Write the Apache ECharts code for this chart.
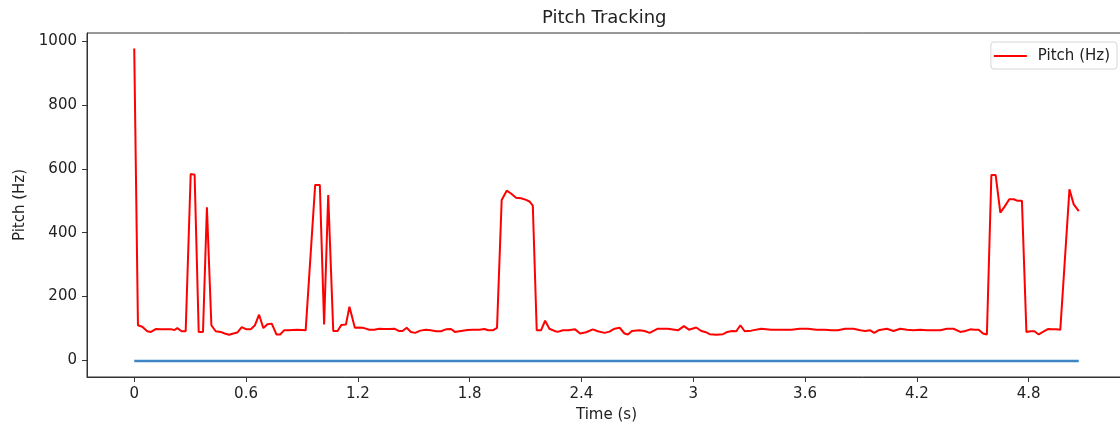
<!DOCTYPE html>
<html>
<head>
<meta charset="utf-8">
<script src="https://cdn.jsdelivr.net/npm/echarts@6/dist/echarts.min.js"></script>
<style>
html, body { margin: 0; padding: 0; background: #fff; }
#main { width: 1120px; height: 432px; }
</style>
</head>
<body>
<div id="main"></div>
<script>
// pitch track (time in s, pitch in Hz)
var pitchTimes = [0.00, 0.02, 0.043, 0.07, 0.09, 0.115, 0.14, 0.17, 0.20, 0.216, 0.231, 0.254, 0.276, 0.303, 0.324, 0.346, 0.369, 0.39, 0.414, 0.437,
	0.464, 0.485, 0.509, 0.532, 0.553, 0.577, 0.602, 0.625, 0.648, 0.670, 0.693, 0.715, 0.738, 0.763, 0.783, 0.804, 0.831, 0.85, 0.875, 0.90,
	0.92, 0.971, 0.996, 1.019, 1.041, 1.068, 1.091, 1.112, 1.136, 1.155, 1.184, 1.207, 1.234, 1.261, 1.288, 1.315, 1.342, 1.369, 1.396, 1.419,
	1.44, 1.462, 1.485, 1.508, 1.535, 1.565, 1.592, 1.619, 1.646, 1.673, 1.70, 1.721, 1.753, 1.789, 1.816, 1.852, 1.879, 1.90, 1.924, 1.947,
	1.972, 1.999, 2.022, 2.049, 2.076, 2.103, 2.121, 2.139, 2.160, 2.183, 2.205, 2.228, 2.255, 2.273, 2.30, 2.33, 2.366, 2.393, 2.425, 2.461,
	2.488, 2.524, 2.55, 2.578, 2.605, 2.631, 2.649, 2.671, 2.712, 2.739, 2.766, 2.81, 2.864, 2.918, 2.95, 2.977, 3.016, 3.043, 3.064, 3.088,
	3.124, 3.16, 3.183, 3.208, 3.231, 3.253, 3.276, 3.311, 3.365, 3.419, 3.473, 3.527, 3.571, 3.616, 3.661, 3.706, 3.742, 3.777, 3.815, 3.86,
	3.896, 3.923, 3.95, 3.971, 3.994, 4.039, 4.075, 4.111, 4.147, 4.183, 4.218, 4.254, 4.29, 4.326, 4.361, 4.397, 4.433, 4.46, 4.487, 4.51,
	4.532, 4.555, 4.576, 4.60, 4.623, 4.648, 4.671, 4.696, 4.72, 4.741, 4.764, 4.788, 4.81, 4.831, 4.854, 4.877, 4.903, 4.926, 4.948, 4.97,
	5.019, 5.042, 5.069];
var pitchValues = [978, 110, 105, 91, 89, 98, 97, 97, 97, 95, 101, 91, 91, 584, 582, 89, 89, 480, 110, 91,
	89, 84, 80, 84, 87, 104, 97, 97, 110, 143, 101, 113, 115, 81, 81, 94, 94, 95, 96, 95,
	94, 550, 550, 112, 518, 92, 92, 111, 112, 168, 102, 103, 101, 96, 96, 99, 98, 98, 99, 92,
	92, 102, 89, 86, 93, 96, 94, 91, 91, 97, 98, 89, 92, 95, 96, 96, 98, 94, 94, 102,
	503, 532, 523, 510, 508, 503, 498, 485, 94, 94, 124, 99, 92, 89, 94, 94, 97, 84, 88, 97,
	91, 86, 90, 99, 102, 84, 81, 92, 94, 92, 86, 99, 99, 94, 107, 96, 103, 92, 89, 82,
	80, 82, 89, 92, 91, 110, 91, 93, 99, 96, 96, 96, 99, 99, 96, 96, 94, 94, 99, 99,
	94, 92, 94, 86, 94, 99, 92, 99, 96, 94, 96, 94, 94, 94, 99, 99, 89, 92, 97, 96,
	96, 84, 81, 581, 581, 463, 482, 505, 505, 500, 500, 89, 91, 91, 81, 89, 98, 97, 97, 96,
	536, 489, 468];

// the flat blue trace near zero
var waveTimes = [0, 1.2, 2.4, 3.6, 4.8, 5.069];
var waveValues = [-2, -2, -2, -2, -2, -2];

var xTicks = [0, 0.6, 1.2, 1.8, 2.4, 3, 3.6, 4.2, 4.8];
var yTicks = [0, 200, 400, 600, 800, 1000];

var pitchData = [];
for (var i = 0; i < pitchTimes.length; i++) {
	pitchData.push([pitchTimes[i], pitchValues[i]]);
}
var waveData = [];
for (var j = 0; j < waveTimes.length; j++) {
	waveData.push([waveTimes[j], waveValues[j]]);
}

var myChart = echarts.init(document.getElementById('main'), null, { renderer: 'canvas' });

var font = 'DejaVu Sans';

var option = {
	backgroundColor: '#fff',
	animation: false,
	textStyle: { fontFamily: font },
	title: {
		text: 'Pitch Tracking',
		left: 537,
		top: 4,
		textStyle: { fontFamily: font, fontSize: 18, fontWeight: 'normal', color: '#222' }
	},
	legend: {
		data: [{ name: 'Pitch (Hz)', icon: 'rect' }],
		right: 3,
		top: 42,
		orient: 'vertical',
		padding: [5, 7, 4, 3],
		itemWidth: 33,
		itemHeight: 2,
		borderColor: '#d6d6d6',
		borderWidth: 1,
		borderRadius: 3,
		backgroundColor: 'rgba(255,255,255,0.8)',
		textStyle: { fontFamily: font, fontSize: 15, color: '#222', padding: [0, 0, 0, 6], lineHeight: 18 }
	},
	grid: {
		left: 87,
		top: 33,
		right: -6,
		bottom: 55,
		show: true,
		borderColor: '#333',
		borderWidth: 1,
		backgroundColor: 'transparent',
		containLabel: false,
		outerBoundsMode: 'none'
	},
	xAxis: {
		type: 'value',
		min: -0.2535,
		max: 5.3225,
		name: 'Time (s)',
		nameLocation: 'middle',
		nameGap: 31,
		nameTextStyle: { fontFamily: font, fontSize: 15, color: '#222' },
		axisLine: { show: true, onZero: false, lineStyle: { color: '#333', width: 1 } },
		axisTick: { show: true, length: 5, customValues: xTicks, lineStyle: { color: '#333' } },
		axisLabel: {
			margin: 10, customValues: xTicks, fontFamily: font, fontSize: 15, color: '#222',
			formatter: function (v) { return String(Math.round(v * 10) / 10); }
		},
		splitLine: { show: false }
	},
	yAxis: {
		type: 'value',
		min: -52.4,
		max: 1026.4,
		name: 'Pitch (Hz)',
		nameLocation: 'middle',
		nameGap: 57,
		nameTextStyle: { fontFamily: font, fontSize: 15, color: '#222' },
		axisLine: { show: true, onZero: false, lineStyle: { color: '#333', width: 1 } },
		axisTick: { show: true, length: 5, customValues: yTicks, lineStyle: { color: '#333' } },
		axisLabel: {
			margin: 10, customValues: yTicks, fontFamily: font, fontSize: 15, color: '#222',
			formatter: function (v) { return String(Math.round(v)); }
		},
		splitLine: { show: false }
	},
	series: [{
		name: 'wave',
		type: 'line',
		symbol: 'none',
		lineStyle: { color: '#3f87c2', width: 2.5 },
		itemStyle: { color: '#3f87c2' },
		data: waveData,
		z: 2
	}, {
		name: 'Pitch (Hz)',
		type: 'line',
		symbol: 'none',
		lineStyle: { color: '#ff0000', width: 2 },
		itemStyle: { color: '#ff0000' },
		data: pitchData,
		z: 3
	}]
};

myChart.setOption(option);
</script>
</body>
</html>
